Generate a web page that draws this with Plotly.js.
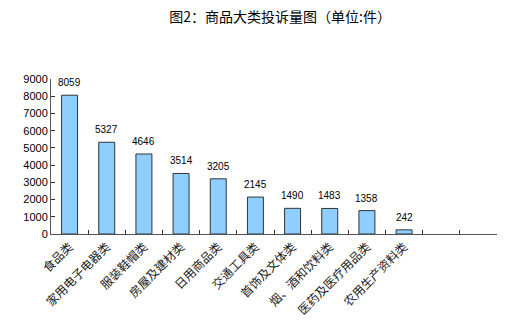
<!DOCTYPE html>
<html>
<head>
<meta charset="utf-8">
<script src="https://cdn.plot.ly/plotly-3.0.1.min.js"></script>
<style>html,body{margin:0;padding:0;background:#fff;}#chart{width:513px;height:326px;}</style>
</head>
<body>
<div id="chart"></div>
<script>
const categories = ["食品类","家用电子电器类","服装鞋帽类","房屋及建材类","日用商品类","交通工具类","首饰及文体类","烟、酒和饮料类","医药及医疗用品类","农用生产资料类"];
const complaints = [8059, 5327, 4646, 3514, 3205, 2145, 1490, 1483, 1358, 242];
const emptySlots = [" ", "  "];
const yTicks = [0,1000,2000,3000,4000,5000,6000,7000,8000,9000];

const allCats = categories.concat(emptySlots);
const allVals = complaints.concat(emptySlots.map(() => null));

const trace = {
  type: 'bar',
  x: allCats,
  y: allVals,
  marker: {color: '#8ECFFF', line: {color: '#333333', width: 1}},
  hoverinfo: 'none'
};

const annotations = categories.map((c, i) => ({
  x: c, y: complaints[i], xref: 'x', yref: 'y',
  text: String(complaints[i]), showarrow: false,
  yanchor: 'bottom', yshift: 5,
  font: {family: 'Liberation Sans, Arial, sans-serif', size: 10, color: '#000'}
}));

const layout = {
  width: 513, height: 326,
  margin: {l: 51, r: 16, t: 79, b: 92},
  paper_bgcolor: '#fff', plot_bgcolor: '#fff',
  showlegend: false,
  bargap: 0.57,
  annotations: annotations,
  title: {text: '图2：商品大类投诉量图（单位:件）', x: 0.546, xref: 'container', xanchor: 'center', y: 0.948, yref: 'container', yanchor: 'middle',
          font: {family: 'Noto Sans CJK SC, sans-serif', size: 14, color: '#000'}},
  xaxis: {
    type: 'category', categoryorder: 'array', categoryarray: allCats,
    tickson: 'boundaries', ticks: 'inside', ticklen: 4, tickcolor: '#333', tickwidth: 1,
    showline: true, linecolor: '#555', linewidth: 1,
    tickangle: -45, showgrid: false, zeroline: false,
    tickfont: {family: 'Noto Sans CJK SC, sans-serif', size: 12, color: '#222'},
    fixedrange: true
  },
  yaxis: {
    range: [0, 9000], tickvals: yTicks, ticktext: yTicks.map(String),
    ticks: 'inside', ticklen: 4, tickcolor: '#333', tickwidth: 1,
    showline: true, linecolor: '#555', linewidth: 1,
    showgrid: false, zeroline: false,
    tickfont: {family: 'Liberation Sans, Arial, sans-serif', size: 11, color: '#000'},
    fixedrange: true
  }
};

Plotly.newPlot('chart', [trace], layout, {staticPlot: true, displayModeBar: false});
</script>
</body>
</html>
